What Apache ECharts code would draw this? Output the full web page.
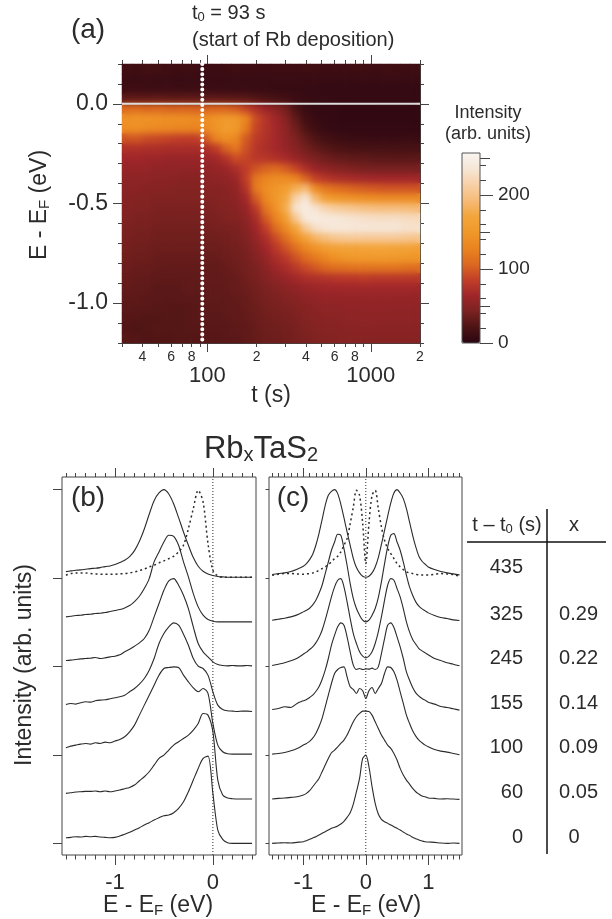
<!DOCTYPE html>
<html><head><meta charset="utf-8">
<style>html,body{margin:0;padding:0;background:#fff}
#wrap{position:relative;width:612px;height:919px;overflow:hidden}
#c,#lines{position:absolute;left:0;top:0;width:612px;height:919px}
#lines{pointer-events:none}
#heatClip{position:absolute;left:122px;top:64px;width:298px;height:279px;overflow:hidden}
#heatSoft{width:298px;height:279px;filter:blur(3px)}
</style>
<script src="https://cdn.jsdelivr.net/npm/echarts@6/dist/echarts.min.js"></script></head>
<body><div id="wrap"><div id="c"></div><div id="heatClip"><div id="heatSoft"></div></div><div id="lines"></div></div>
<script>
// ---------- panel (a) data ----------
const tMinorTicks=[30,40,50,60,70,80,90,100,200,300,400,500,600,700,800,900,1000,2000];
const tSmallLabels=[40,60,80,200,400,600,800,2000];
const tBigLabels=[100,1000];
const eMajorTicks=[-1,-0.5,0];
const eMinorTicks=[-1.2,-1.1,-1,-.9,-.8,-.7,-.6,-.5,-.4,-.3,-.2,-.1,0,.1,.2];
const eRows=[0.175,0.125,0.075,0.025,-0.025,-0.075,-0.125,-0.175,-0.225,-0.275,-0.325,-0.375,-0.425,-0.475,-0.525,-0.575,-0.625,-0.675,-0.725,-0.775,-0.825,-0.875,-0.925,-0.975,-1.025,-1.075,-1.125,-1.175];
const tColumns=[32,37,42,48,55,63,72,82,94,107,123,140,161,184,210,241,275,315,360,412,471,539,617,706,808,924,1058,1210,1385,1585];
const intensity=[
[14,13,15,14,13,12,13,12,11,11,12,13,12,12,11,12,12,12,13,13,12,13,12,13,13,12,13,13,12,13],
[11,10,12,10,11,9,10,10,9,9,9,10,9,9,9,10,10,10,9,10,9,9,10,9,10,9,10,10,9,10],
[12,12,11,11,12,11,11,11,11,10,10,10,10,9,9,8,8,8,8,8,7,7,7,7,7,7,7,7,7,7],
[30,31,30,32,31,30,31,30,30,30,29,28,27,24,20,17,14,11,9,8,8,7,7,7,7,7,7,7,7,7],
[108,110,106,108,105,104,105,103,104,106,105,100,88,74,62,52,40,20,10,7,6,6,5,5,5,5,5,5,5,5],
[142,146,144,142,140,140,138,136,138,146,152,150,130,92,76,64,50,30,14,9,7,6,5,5,5,5,5,5,5,5],
[138,140,136,134,132,130,130,128,134,146,156,150,122,88,76,66,54,38,22,12,8,7,6,6,6,6,6,6,6,6],
[96,98,92,90,88,85,84,84,100,128,140,132,100,82,74,66,56,44,32,22,16,13,11,10,10,9,10,9,10,10],
[74,74,72,72,70,70,70,70,72,84,104,118,94,78,72,66,58,50,40,32,26,22,20,19,18,18,18,18,18,18],
[64,64,62,62,60,60,60,60,62,66,76,92,88,80,78,74,68,60,50,44,38,34,32,30,30,28,28,28,28,28],
[58,58,58,56,56,56,55,55,56,58,62,72,84,96,104,108,100,88,72,60,54,50,46,44,42,42,42,42,42,42],
[54,54,54,52,52,52,50,50,52,54,56,62,84,118,130,136,136,128,104,86,78,72,70,68,66,64,64,64,64,64],
[52,52,50,50,50,48,48,48,50,50,52,56,76,120,138,148,158,180,190,136,118,110,106,102,100,98,96,96,96,96],
[50,48,48,46,46,46,46,46,46,48,50,54,66,100,132,150,172,215,235,190,162,150,146,142,140,138,136,136,136,136],
[48,46,46,44,44,44,44,44,44,46,48,50,60,82,118,142,178,232,245,232,218,210,205,202,198,196,195,195,194,192],
[46,44,44,42,42,42,42,42,42,44,46,48,54,70,100,128,158,205,240,244,240,238,235,232,230,228,228,228,226,224],
[44,42,42,40,40,40,40,40,40,42,42,44,50,64,85,110,135,170,205,228,235,238,238,236,236,236,236,236,232,232],
[42,40,40,38,38,38,38,38,38,38,40,42,46,58,72,92,112,138,165,185,195,203,206,206,206,206,206,206,204,202],
[40,38,38,36,36,36,36,36,36,36,38,40,44,52,64,80,95,112,130,145,158,163,166,166,168,168,168,166,165,162],
[38,36,36,34,34,34,34,34,34,34,36,38,42,48,58,70,80,95,108,120,132,142,148,150,152,152,152,150,148,148],
[36,34,34,32,32,32,32,32,32,32,34,36,40,44,52,62,70,80,90,98,106,110,112,115,115,115,115,115,112,110],
[34,32,32,30,30,30,30,30,32,32,32,34,38,42,48,54,60,66,72,74,76,78,80,80,82,80,80,80,80,80],
[32,30,30,28,28,28,30,30,30,30,32,34,36,40,44,48,52,56,60,62,64,64,65,65,65,65,65,65,65,65],
[30,29,28,28,27,28,28,28,30,30,30,32,34,38,42,44,48,50,54,56,58,58,58,58,58,58,58,58,58,58],
[28,27,27,26,26,25,26,27,28,29,30,31,33,36,40,42,44,46,50,52,54,54,55,55,55,55,56,55,55,55],
[26,25,24,24,25,25,26,27,28,28,29,30,32,35,38,40,42,44,48,50,52,52,53,54,54,54,54,54,54,54],
[24,22,24,25,25,25,26,26,27,27,28,29,31,34,37,38,40,42,46,48,50,50,52,52,52,52,52,52,52,52],
[26,25,23,24,24,25,25,25,26,26,27,28,30,33,36,37,39,41,44,46,48,49,50,50,50,50,50,50,50,50]];
const barMajor=[0,100,200];
const barMid=[50,150,250];
const barMinor=[20,40,60,80,120,140,160,180,220,240];
const palette=['#2a0512','#4d1414','#7a2220','#a0262a','#c23f28','#dc6a20','#ea8420','#f0982a','#f3a53c','#f6bb78','#f7d0a8','#f6e6d6','#f8f6f2'];
const depositionStart=93;

// ---------- panel (b) data ----------
const bE=[-1.5,-1.45,-1.4,-1.35,-1.3,-1.25,-1.2,-1.15,-1.1,-1.05,-1,-.95,-.9,-.85,-.8,-.75,-.7,-.65,-.6,-.55,-.5,-.45,-.4,-.35,-.3,-.25,-.2,-.15,-.1,-.05,0,.05,.1,.15,.2,.25,.3,.35,.4];
const b435=[816,818,820,821,823,825,826,828,831,833,837,843,850,861,879,907,944,988,1029,1052,1062,1049,1019,978,935,895,858,832,817,809,804,801,800,799,799,799,799,799,799];
const bDotted=[805,810,812,812,812,810,809,808,808,808,808,809,810,812,815,819,824,830,835,842,848,855,862,875,895,945,1005,1060,1025,900,820,803,799,799,799,799,799,799,799];
const b325=[680,682,684,685,687,688,690,691,693,696,699,702,707,714,726,742,765,795,845,875,905,925,922,895,845,800,750,710,685,672,667,665,665,665,665,665,665,665,665];
const b245=[549,550,552,554,555,556,558,555,557,560,562,566,575,583,592,602,615,640,680,720,760,788,795,775,745,705,650,600,575,560,545,537,534,533,534,533,533,534,533];
const b155=[417,420,418,422,425,424,428,430,431,434,437,440,445,455,465,478,495,520,555,600,630,650,662,655,628,595,555,532,525,505,455,415,402,398,397,396,397,397,396];
const b100=[287,292,295,298,300,298,302,300,304,302,307,312,320,335,355,385,415,445,475,505,525,528,530,528,505,485,467,455,465,450,360,295,275,269,268,268,268,268,268];
const b60=[150,152,154,155,156,156,157,155,157,155,157,160,164,168,175,188,200,215,235,255,265,280,295,305,315,325,340,360,390,385,335,190,145,136,134,133,133,133,133];
const b0=[17,18,20,19,21,20,21,19,18,17,18,22,27,33,40,47,55,62,70,77,83,85,92,105,125,155,190,225,255,262,150,40,12,2,0,0,0,0,0];

// ---------- panel (c) data ----------
const cE=[-1.5,-1.4,-1.3,-1.2,-1.1,-1,-.95,-.9,-.85,-.8,-.75,-.7,-.65,-.6,-.55,-.5,-.45,-.4,-.35,-.3,-.25,-.2,-.15,-.1,-.05,0,.05,.1,.15,.2,.25,.3,.35,.4,.45,.5,.55,.6,.65,.7,.75,.8,.85,.9,.95,1,1.1,1.2,1.3,1.4,1.5];
const c435=[807,810,812,816,823,832,840,852,868,895,930,972,1015,1045,1057,1062,1050,1018,978,935,895,855,828,812,802,799,802,812,830,858,898,940,982,1022,1052,1062,1052,1035,1005,965,925,890,862,847,838,830,822,816,812,809,806];
const cDotted=[805,808,810,810,809,808,809,810,812,815,820,825,830,838,845,855,862,875,895,915,960,1010,1060,1045,960,840,960,1045,1060,1005,950,910,885,870,855,840,830,822,815,812,810,808,806,806,806,806,808,810,809,807,802];
const c325=[670,673,676,680,686,695,700,706,716,730,750,775,810,845,880,905,928,925,885,835,780,735,705,685,670,665,670,685,705,738,785,840,890,925,930,905,880,845,805,770,745,725,712,704,698,692,684,678,675,671,669];
const c245=[534,538,542,548,556,568,574,582,590,602,618,640,670,705,740,770,790,795,770,725,675,630,600,575,562,557,562,575,600,635,680,730,775,795,790,765,740,705,665,635,612,598,585,578,572,566,555,549,542,538,533];
const c155=[402,405,410,408,420,428,432,438,445,456,470,492,520,555,595,625,650,662,655,620,575,535,522,525,522,524,523,526,522,530,570,615,655,662,648,620,590,555,515,490,468,452,442,435,430,424,418,411,408,404,400];
const c100=[268,270,273,278,285,295,300,306,316,330,350,375,410,445,480,510,522,528,530,500,470,462,450,465,458,435,458,468,450,465,480,510,530,528,515,490,455,420,385,360,338,322,310,302,295,290,282,277,274,270,266];
const c60=[133,135,136,138,140,145,150,158,170,182,195,215,235,255,272,280,290,300,310,325,345,365,380,390,397,397,396,385,365,345,325,310,295,285,270,250,225,205,190,178,165,155,148,142,140,136,135,133,134,133,132];
const c0=[0,1,2,1,3,5,8,12,16,20,25,30,35,40,45,48,52,58,66,78,92,118,155,195,255,265,230,170,120,88,72,65,60,55,50,45,40,34,28,24,18,14,10,7,5,4,3,1,0,1,0];

const traceTicks=[0,265.5,531,796.5,1062];
const bMinorTicks=[-1.5,-1.4,-1.3,-1.2,-1.1,-1,-.9,-.8,-.7,-.6,-.5,-.4,-.3,-.2,-.1,0,.1,.2,.3,.4];
const bMajorTicks=[-1,0];
const cMinorTicks=[-1.5,-1.4,-1.3,-1.2,-1.1,-1,-.9,-.8,-.7,-.6,-.5,-.4,-.3,-.2,-.1,0,.1,.2,.3,.4,.5,.6,.7,.8,.9,1,1.1,1.2,1.3,1.4,1.5];
const cMajorTicks=[-1,0,1];

// ---------- table ----------
const tableTimes=['435','325','245','155','100','60','0'];
const tableX=['','0.29','0.22','0.14','0.09','0.05','0'];

// ---------- helpers ----------
const FONT='"Liberation Sans",Arial,sans-serif', INK='#2b2b2b', EDGE='#444444';
const xAxes=[], yAxes=[], series=[];
function addX(o){xAxes.push(Object.assign({axisLine:{show:false,onZero:false},splitLine:{show:false},axisTick:{show:false},axisLabel:{show:false}},o));return xAxes.length-1;}
function addY(o){yAxes.push(Object.assign({axisLine:{show:false,onZero:false},splitLine:{show:false},axisTick:{show:false},axisLabel:{show:false}},o));return yAxes.length-1;}
function ticks(values,len,w){return {show:true,customValues:values,length:len,lineStyle:{color:EDGE,width:w||1}};}
function labels(values,size,margin,fmt){return {show:true,customValues:values,fontSize:size,margin:margin,color:INK,fontFamily:FONT,formatter:fmt,hideOverlap:false};}
const solidLine={color:INK,width:1.1,opacity:1};
const edgeLine={show:true,onZero:false,lineStyle:{color:EDGE,width:1}};
const heat=[];
intensity.forEach((r,y)=>r.forEach((v,x)=>heat.push([x,y,v])));
const zeroLine={type:'line',symbol:'none',z:5,lineStyle:{color:'#dcdcdc',width:2},data:[[30,0],[2000,0]],silent:true};
const t0Line={type:'line',symbol:'none',z:6,lineStyle:{color:'#ffffff',width:4,type:[0.1,5],cap:'round'},data:[[depositionStart,0.2],[depositionStart,-1.2]],silent:true};

// panel (a)
const colIdx=addX({gridIndex:0,type:'category',show:false,data:tColumns});
const rowIdx=addY({gridIndex:0,type:'category',show:false,inverse:true,data:eRows});
const logCommon={gridIndex:0,type:'log',logBase:10,min:30,max:2000};
const logBase=addX(Object.assign({},logCommon,{position:'bottom',axisLine:edgeLine,axisTick:ticks(tMinorTicks,4),axisLabel:labels(tSmallLabels,14,7,v=>String(v)[0])}));
addX(Object.assign({},logCommon,{position:'bottom',axisTick:ticks(tBigLabels,9),axisLabel:labels(tBigLabels,22,22,v=>String(v))}));
addX(Object.assign({},logCommon,{position:'top',axisLine:edgeLine,axisTick:ticks(tMinorTicks,4)}));
addX(Object.assign({},logCommon,{position:'top',axisTick:ticks(tBigLabels,9)}));
const eCommon={gridIndex:0,type:'value',min:-1.2,max:0.2};
const eLeft=addY(Object.assign({},eCommon,{position:'left',axisLine:edgeLine,axisTick:ticks(eMajorTicks,9),axisLabel:labels(eMajorTicks,23,14,v=>v.toFixed(1))}));
addY(Object.assign({},eCommon,{position:'left',axisTick:ticks(eMinorTicks,4)}));
addY(Object.assign({},eCommon,{position:'right',axisLine:edgeLine,axisTick:ticks(eMinorTicks,4)}));
addY(Object.assign({},eCommon,{position:'right',axisTick:ticks(eMajorTicks,9)}));

series.push({type:'heatmap',xAxisIndex:colIdx,yAxisIndex:rowIdx,data:heat,progressive:0,animation:false,emphasis:{disabled:true},itemStyle:{borderWidth:0}});
series.push(Object.assign({},zeroLine,{xAxisIndex:logBase,yAxisIndex:eLeft}));
series.push(Object.assign({},t0Line,{xAxisIndex:logBase,yAxisIndex:eLeft}));

// colour bar axes
addX({gridIndex:1,type:'value',show:false,min:0,max:1});
const barCommon={gridIndex:1,type:'value',min:0,max:257,position:'right'};
addY(Object.assign({},barCommon,{axisTick:ticks(barMajor,13),axisLabel:labels(barMajor,19,18,v=>String(v))}));
addY(Object.assign({},barCommon,{axisTick:ticks(barMid,10)}));
addY(Object.assign({},barCommon,{axisTick:ticks(barMinor,6)}));

// trace panels
function tracePanel(g,xMin,xMax,minorTicks,majorTicks,leftLen,traces,dotted,E){
  const common={gridIndex:g,type:'value',min:xMin,max:xMax};
  const xi=addX(Object.assign({},common,{position:'bottom',axisTick:ticks(minorTicks,4.5),axisLabel:{show:false}}));
  addX(Object.assign({},common,{position:'bottom',axisTick:ticks(majorTicks,10),axisLabel:labels(majorTicks,22,17,v=>String(v))}));
  addX(Object.assign({},common,{position:'top',axisTick:ticks(minorTicks,4)}));
  addX(Object.assign({},common,{position:'top',axisTick:ticks(majorTicks,9)}));
  const yi=addY({gridIndex:g,type:'value',min:-35,max:1100,position:'left',axisTick:ticks(traceTicks,leftLen)});
  traces.forEach(arr=>series.push({type:'line',xAxisIndex:xi,yAxisIndex:yi,symbol:'none',smooth:0.3,lineStyle:solidLine,data:E.map((e,i)=>[e,arr[i]]),silent:true}));
  series.push({type:'line',xAxisIndex:xi,yAxisIndex:yi,symbol:'none',smooth:0.3,lineStyle:{color:INK,width:1.5,type:[2,3]},data:E.map((e,i)=>[e,dotted[i]]),silent:true});
  series.push({type:'line',xAxisIndex:xi,yAxisIndex:yi,symbol:'none',lineStyle:{color:INK,width:1,type:[1,2]},data:[[0,-35],[0,1100]],silent:true});
}
tracePanel(2,-1.54,0.44,bMinorTicks,bMajorTicks,9,[b435,b325,b245,b155,b100,b60,b0],bDotted,bE);
tracePanel(3,-1.55,1.54,cMinorTicks,cMajorTicks,3.5,[c435,c325,c245,c155,c100,c60,c0],cDotted,cE);

// texts
function T(x,y,text,size,o){
  const base=Object.assign({text:text,fontSize:size,fontFamily:FONT,fill:INK,textAlign:'center',textVerticalAlign:'middle'},o&&o.style);
  return Object.assign({type:'text',x:x,y:y,silent:true,z:20,style:base},o&&o.el);
}
function subRich(size,subSize,pad){return {b:{fontSize:size,fontFamily:FONT,fill:INK},s:{fontSize:subSize,fontFamily:FONT,fill:INK,verticalAlign:'bottom',padding:[pad,0,0,0]}};}
const g=[
 T(88,30,'(a)',28),
 T(192,13,'{b|t}{s|0}{b| = 93 s}',20,{style:{textAlign:'left',rich:subRich(20,13,9)}}),
 T(192,40,'(start of Rb deposition)',20,{style:{textAlign:'left'}}),
 T(40,205,'{b|E - E}{s|F}{b| (eV)}',23,{el:{rotation:Math.PI/2},style:{rich:subRich(23,15,9)}}),
 T(271,396,'t (s)',23),
 T(488,113,'Intensity',18),
 T(488,134,'(arb. units)',18),
 T(261,449,'{b|Rb}{s|x}{b|TaS}{s|2}',31,{style:{rich:subRich(31,20,13)}}),
 T(88,498,'(b)',28),
 T(293,498,'(c)',28),
 T(25,665,'Intensity (arb. units)',23,{el:{rotation:Math.PI/2}}),
 T(158,906,'{b|E - E}{s|F}{b| (eV)}',23,{style:{rich:subRich(23,15,9)}}),
 T(366,906,'{b|E - E}{s|F}{b| (eV)}',23,{style:{rich:subRich(23,15,9)}}),
 T(507,525,'{b|t – t}{s|0}{b| (s)}',20,{style:{rich:subRich(20,13,9)}}),
 T(574,525,'x',20),
 {type:'line',silent:true,z:20,shape:{x1:467,y1:542,x2:606,y2:542},style:{stroke:'#111',lineWidth:1.5}},
 {type:'line',silent:true,z:20,shape:{x1:547,y1:509,x2:547,y2:854},style:{stroke:'#111',lineWidth:1.5}}
];
const rowY=[567,614,658,703,747,792,837];
tableTimes.forEach((s,i)=>g.push(T(523,rowY[i],s,20,{style:{textAlign:'right'}})));
tableX.forEach((s,i)=>{ if(s) g.push(s==='0'?T(574,rowY[i],s,20):T(598,rowY[i],s,20,{style:{textAlign:'right'}})); });

const chart=echarts.init(document.getElementById('c'),null,{renderer:'canvas',width:612,height:919});
chart.setOption({
 animation:false,backgroundColor:'#fff',
 grid:[
  {left:122,top:64,width:298,height:279},
  {left:462,top:153,width:18,height:190,show:true,borderColor:'#555',borderWidth:1,z:10,backgroundColor:'transparent'},
  {left:62,top:477,width:194,height:378,show:true,borderColor:EDGE,borderWidth:1,backgroundColor:'transparent'},
  {left:269,top:477,width:193,height:378,show:true,borderColor:EDGE,borderWidth:1,backgroundColor:'transparent'}
 ],
 xAxis:xAxes,yAxis:yAxes,series:series,graphic:g,
 visualMap:[{type:'continuous',seriesIndex:0,dimension:2,min:0,max:257,left:462,top:153,itemWidth:18,itemHeight:190,text:null,calculable:false,hoverLink:false,showLabel:false,padding:0,inRange:{color:palette},textStyle:{fontSize:0,color:'transparent'}}]
});

// soft copy of the same heatmap, laid over the sharp one (the reference image is soft)
const soft=echarts.init(document.getElementById('heatSoft'),null,{renderer:'canvas',width:298,height:279});
soft.setOption({animation:false,grid:{left:0,top:0,right:0,bottom:0},
 xAxis:{type:'category',show:false,data:tColumns},yAxis:{type:'category',show:false,inverse:true,data:eRows},
 visualMap:{show:false,dimension:2,min:0,max:257,inRange:{color:palette}},
 series:[{type:'heatmap',data:heat,progressive:0,emphasis:{disabled:true}}]});

// the two lines stay crisp above the soft layer
const over=echarts.init(document.getElementById('lines'),null,{renderer:'canvas',width:612,height:919});
over.setOption({animation:false,backgroundColor:'transparent',grid:{left:122,top:64,width:298,height:279},
 xAxis:{type:'log',show:false,logBase:10,min:30,max:2000},yAxis:{type:'value',show:false,min:-1.2,max:0.2},
 series:[zeroLine,t0Line]});
</script></body></html>
